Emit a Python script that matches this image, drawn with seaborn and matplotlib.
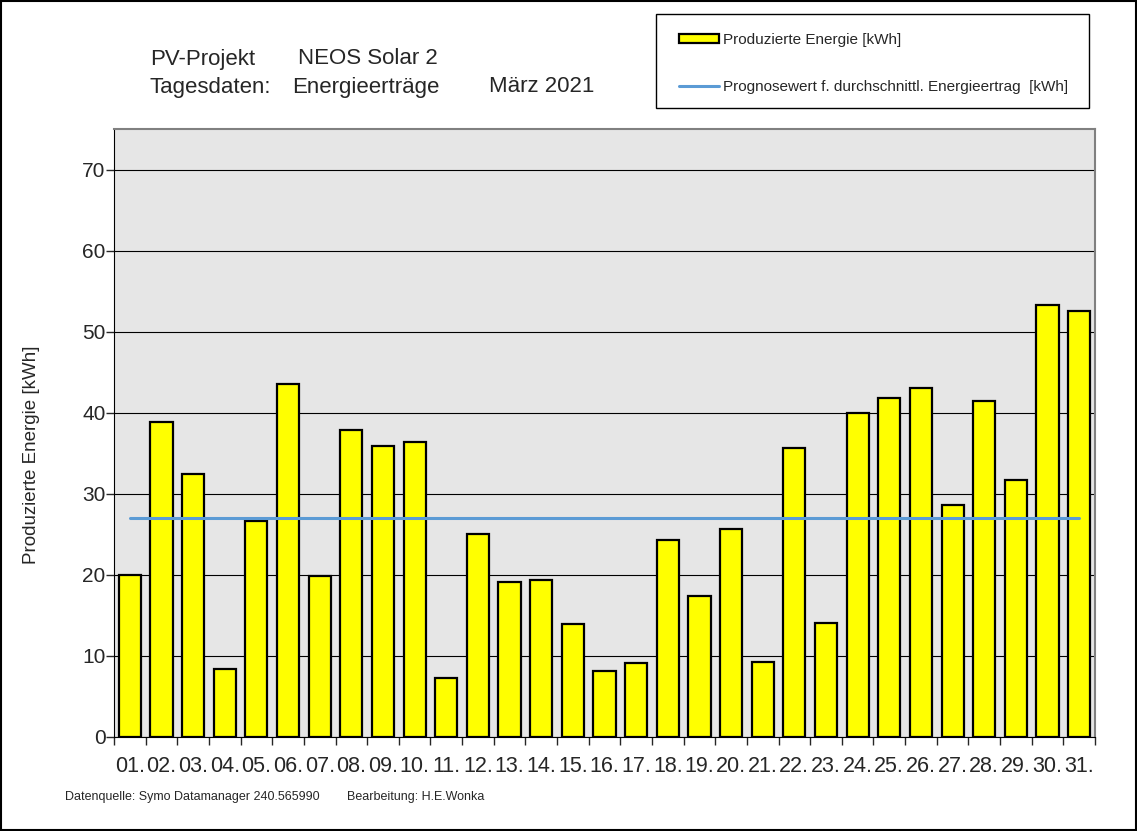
import matplotlib
matplotlib.use("Agg")
import matplotlib.pyplot as plt
import seaborn as sns
import numpy as np
import pandas as pd
from matplotlib.patches import Patch, Rectangle
from matplotlib.lines import Line2D

# Tageswerte März 2021
tage = [f"{i:02d}." for i in range(1, 32)]
energie = [20.0, 38.8, 32.5, 8.4, 26.7, 43.6, 19.8, 37.9, 35.9, 36.4,
           7.3, 25.1, 19.1, 19.4, 14.0, 8.1, 9.1, 24.3, 17.4, 25.7,
           9.3, 35.6, 14.1, 40.0, 41.8, 43.1, 28.6, 41.5, 31.7, 53.3, 52.5]
prognose = [27.0] * 31

df = pd.DataFrame({"Tag": tage, "Energie": energie})

sns.set_style("white")
plt.rcParams["font.family"] = ["Liberation Sans", "DejaVu Sans"]

W, H = 1137, 831
fig = plt.figure(figsize=(11.37, 8.31), dpi=100)
ax = fig.add_axes([114 / W, 1 - 737 / H, 981 / W, 608 / H])
ax.set_facecolor("#e6e6e6")

sns.barplot(data=df, x="Tag", y="Energie", color="#ffff00", saturation=1,
            edgecolor="black", linewidth=1.6, width=0.7, ax=ax, zorder=3)
ax.plot(range(len(tage)), prognose, color="#5b9bd5", lw=2.2, zorder=4)

ax.set_xlim(-0.5, len(tage) - 0.5)
ax.set_ylim(0, 75)
ax.set_yticks(range(0, 71, 10))
ax.yaxis.grid(True, color="black", lw=0.8)
ax.set_axisbelow(True)
ax.tick_params(axis="y", labelsize=15, length=6, width=1, direction="out", left=True, pad=0)
ax.tick_params(axis="x", which="major", labelsize=15.5, length=0, pad=14)
ax.set_xticks(np.arange(-0.5, len(tage), 1), minor=True)
ax.tick_params(axis="x", which="minor", length=6, width=1, direction="out", bottom=True)
ax.set_xlabel("")
ax.set_ylabel("Produzierte Energie [kWh]", fontsize=13.5, va="center", ha="center")
ax.yaxis.set_label_coords((32 - 114) / 981, (737 - 455) / 608)

for side in ["top", "right"]:
    ax.spines[side].set_color("#808080")
    ax.spines[side].set_linewidth(1.5)
ax.spines["left"].set_color("black")
ax.spines["bottom"].set_color("black")

# Kopfzeile
kopf = 16
fig.text(150 / W, 1 - 59 / H, "PV-Projekt", fontsize=kopf, va="center")
fig.text(298 / W, 1 - 59 / H, "NEOS Solar 2", fontsize=kopf, va="center")
fig.text(150 / W, 1 - 87 / H, "Tagesdaten:", fontsize=kopf, va="center")
fig.text(292 / W, 1 - 87 / H, "Energieerträge", fontsize=kopf, va="center")
fig.text(489 / W, 1 - 87 / H, "März 2021", fontsize=kopf, va="center")

# Fußzeile
fig.text(65 / W, 1 - 797 / H, "Datenquelle: Symo Datamanager 240.565990", fontsize=9, va="center")
fig.text(347 / W, 1 - 797 / H, "Bearbeitung: H.E.Wonka", fontsize=9, va="center")

# Legende mit eigenem Rahmen
handles = [Patch(facecolor="#ffff00", edgecolor="black", lw=1.6),
           Line2D([0], [0], color="#5b9bd5", lw=2.2)]
labels = ["Produzierte Energie [kWh]",
          "Prognosewert f. durchschnittl. Energieertrag  [kWh]"]
fig.legend(handles, labels, loc="upper left",
           bbox_to_anchor=(679 / W, 1 - 33 / H),
           fontsize=11, labelspacing=2.15, borderpad=0, borderaxespad=0,
           handlelength=2.6, handleheight=0.55, handletextpad=0.3,
           frameon=False)
fig.patches.append(Rectangle((656 / W, 1 - 108 / H), 433 / W, 94 / H,
                             transform=fig.transFigure, fill=False,
                             edgecolor="black", lw=1))

# Rahmen um die gesamte Grafik
fig.patches.append(Rectangle((0.001, 0.001), 0.998, 0.998, transform=fig.transFigure,
                             fill=False, edgecolor="black", lw=1.5))

fig.savefig("out.png", dpi=100)
